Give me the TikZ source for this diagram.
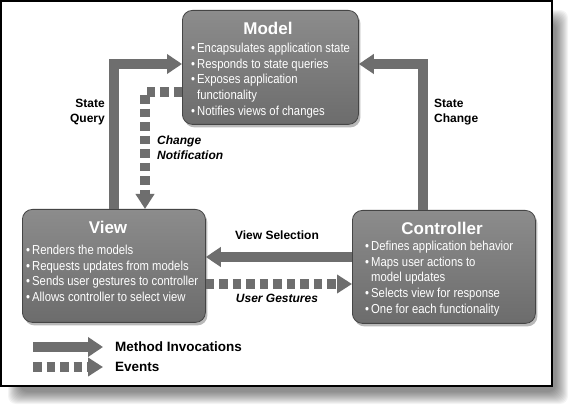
\documentclass[tikz,border=0pt]{standalone}
\usepackage{fontspec}
\setmainfont{Liberation Sans}
\newfontfamily\boxfont[FakeStretch=0.87]{Liberation Sans}
\usetikzlibrary{arrows.meta,shadows,calc}
\definecolor{boxtop}{HTML}{8C8C8C}
\definecolor{boxbot}{HTML}{6C6C6C}
\definecolor{boxline}{HTML}{454545}
\definecolor{arrowgray}{HTML}{6E6E6E}
\newcommand\mybul{\makebox[6pt][l]{\textbullet}}
\newcommand\myind{\hspace*{6pt}}
\begin{document}
\begin{tikzpicture}[x=1pt,y=-1pt,
  mvcbox/.style={draw=boxline, line width=0.8pt, top color=boxtop, bottom color=boxbot,
    rounded corners=10pt, anchor=north west, inner sep=0pt,
    drop shadow={shadow xshift=2pt,shadow yshift=-3pt,opacity=0.55}},
  boxtitle/.style={text=white, font=\fontsize{17}{20}\selectfont\bfseries, inner sep=0pt},
  boxlist/.style={text=white, font=\boxfont\fontsize{13}{15.6}\selectfont, align=left,
    anchor=north west, inner sep=0pt},
  lbl/.style={font=\fontsize{12}{14.8}\selectfont\bfseries, inner sep=0pt},
  legendtext/.style={font=\fontsize{13.5}{16}\selectfont\bfseries, inner sep=0pt, anchor=west},
  method/.style={draw=arrowgray, line width=10pt, line join=miter,
    -{Triangle[length=15pt,width=19pt]}},
  event/.style={draw=arrowgray, line width=10pt, dash pattern=on 8.5pt off 5pt,
    -{Triangle[length=15pt,width=18pt]}},
]
\useasboundingbox (0,0) rectangle (582,417);
% frame with soft shadow
\foreach \r in {0,...,12}
  \fill[black,opacity=0.045,rounded corners=8pt] (8+\r,10+\r) rectangle (568-\r,404-\r);
\draw[line width=1.5pt, fill=white] (1,1) rectangle (552,386);

% boxes
\node[mvcbox, minimum width=176pt, minimum height=114pt] (Model) at (182,10) {};
\node[mvcbox, minimum width=183pt, minimum height=113pt] (View) at (22,209) {};
\node[mvcbox, minimum width=183pt, minimum height=113pt] (Controller) at (352,210) {};

\node[boxtitle] (ModelT) at (268,28) {Model};
\node[boxtitle] (ViewT) at (108,227) {View};
\node[boxtitle] (ControllerT) at (442,228) {Controller};

\node[boxlist] (ModelL) at (191,43) {\mybul Encapsulates application state\\
  \mybul Responds to state queries\\ \mybul Exposes application\\
  \myind functionality\\ \mybul Notifies views of changes};
\node[boxlist] (ViewL) at (26,245) {\mybul Renders the models\\
  \mybul Requests updates from models\\ \mybul Sends user gestures to controller\\
  \mybul Allows controller to select view};
\node[boxlist] (ControllerL) at (365,241) {\mybul Defines application behavior\\
  \mybul Maps user actions to\\ \myind model updates\\
  \mybul Selects view for response\\ \mybul One for each functionality};

% connectors
\draw[method] ($(View.north west)+(92,0)$) |- ($(Model.north west)+(0,54)$);
\draw[method] ($(Controller.north west)+(71,0)$) |- ($(Model.north east)+(0,54)$);
\draw[method] ($(Controller.north west)+(0,47)$) -- ($(View.north east)+(0,48)$);
\draw[event] ($(Model.north west)+(0,82)$) -| ($(View.north west)+(123,0)$);
\draw[event] ($(View.north east)+(0,75)$) -- ($(Controller.north west)+(0,74)$);

% labels
\node[lbl, align=right, anchor=north east] (SQ) at (105,99) {State\\Query};
\node[lbl, align=left, anchor=north west] (SC) at (434,99) {State\\Change};
\node[lbl, align=left, anchor=north west, font=\fontsize{12}{15}\selectfont\bfseries\itshape] (CN) at (157,136) {Change\\Notification};
\node[lbl] (VS) at (277,235) {View Selection};
\node[lbl, font=\fontsize{12}{15}\selectfont\bfseries\itshape] (UG) at (277,298) {User Gestures};

% legend
\node[legendtext] (MI) at (115,347) {Method Invocations};
\node[legendtext] (EV) at (115,367) {Events};
\coordinate (MIstart) at (33,347);
\coordinate (EVstart) at (33,367);
\draw[method] (MIstart) -- ($(MI.west)+(-12,0)$);
\draw[event] (EVstart) -- ($(EV.west)+(-12,0)$);
\end{tikzpicture}
\end{document}
